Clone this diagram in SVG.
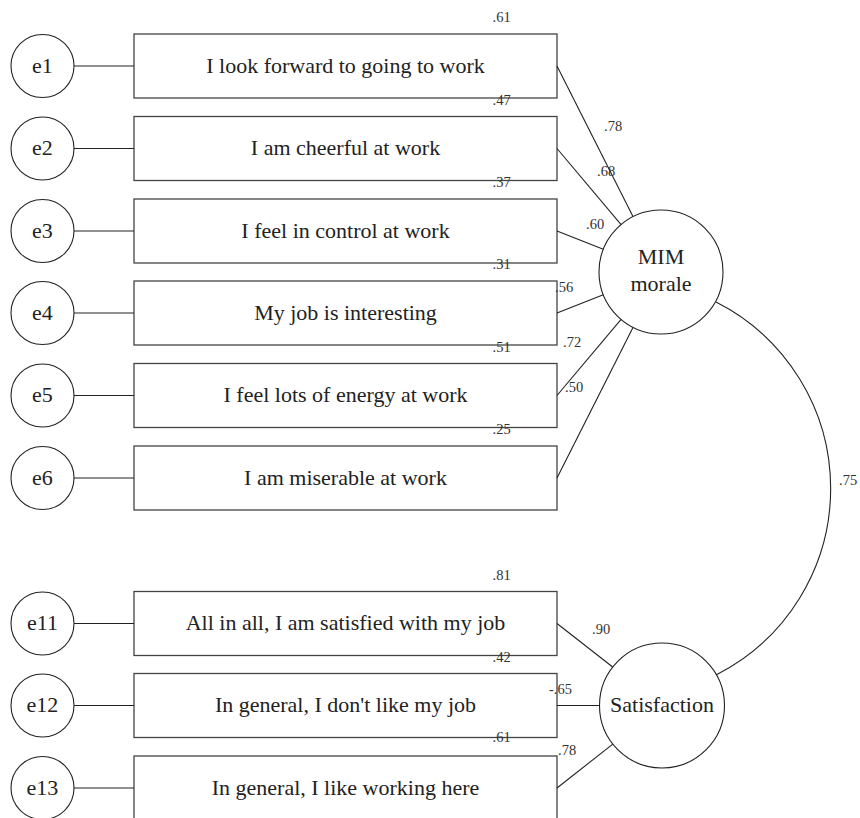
<svg xmlns="http://www.w3.org/2000/svg" width="860" height="818" viewBox="0 0 860 818">
<style>
.box{fill:#fff;stroke:#444;stroke-width:1.3}
.cir{fill:#fff;stroke:#222;stroke-width:1.1}
.ln{stroke:#222;stroke-width:1.1;fill:none}
.t{font-family:"Liberation Serif","Times New Roman",serif;font-size:22px;fill:#222;text-anchor:middle}
.n{font-family:"Liberation Serif","Times New Roman",serif;font-size:14.5px;fill:#333}
</style>
<rect width="860" height="818" fill="#fff"/>
<g id="e1"><circle class="cir" cx="42.5" cy="66" r="31.5"/><text class="t" x="42.5" y="72.5">e1</text></g>
<g id="e2"><circle class="cir" cx="42.5" cy="148.5" r="31.5"/><text class="t" x="42.5" y="155">e2</text></g>
<g id="e3"><circle class="cir" cx="42.5" cy="231" r="31.5"/><text class="t" x="42.5" y="237.5">e3</text></g>
<g id="e4"><circle class="cir" cx="42.5" cy="313" r="31.5"/><text class="t" x="42.5" y="319.5">e4</text></g>
<g id="e5"><circle class="cir" cx="42.5" cy="395.5" r="31.5"/><text class="t" x="42.5" y="402">e5</text></g>
<g id="e6"><circle class="cir" cx="42.5" cy="478" r="31.5"/><text class="t" x="42.5" y="484.5">e6</text></g>
<g id="e11"><circle class="cir" cx="42.5" cy="623.5" r="31.5"/><text class="t" x="42.5" y="630">e11</text></g>
<g id="e12"><circle class="cir" cx="42.5" cy="705.5" r="31.5"/><text class="t" x="42.5" y="712">e12</text></g>
<g id="e13"><circle class="cir" cx="42.5" cy="788" r="31.5"/><text class="t" x="42.5" y="794.5">e13</text></g>
<g id="item1"><rect class="box" x="134" y="34" width="423" height="64"/><text class="t" x="345.5" y="72.5">I look forward to going to work</text><text class="n" x="492.5" y="22">.61</text></g>
<g id="item2"><rect class="box" x="134" y="116.5" width="423" height="64"/><text class="t" x="345.5" y="155">I am cheerful at work</text><text class="n" x="492.5" y="104.5">.47</text></g>
<g id="item3"><rect class="box" x="134" y="199" width="423" height="64"/><text class="t" x="345.5" y="237.5">I feel in control at work</text><text class="n" x="492.5" y="187">.37</text></g>
<g id="item4"><rect class="box" x="134" y="281" width="423" height="64"/><text class="t" x="345.5" y="319.5">My job is interesting</text><text class="n" x="492.5" y="269">.31</text></g>
<g id="item5"><rect class="box" x="134" y="363.5" width="423" height="64"/><text class="t" x="345.5" y="402">I feel lots of energy at work</text><text class="n" x="492.5" y="351.5">.51</text></g>
<g id="item6"><rect class="box" x="134" y="446" width="423" height="64"/><text class="t" x="345.5" y="484.5">I am miserable at work</text><text class="n" x="492.5" y="434">.25</text></g>
<g id="item11"><rect class="box" x="134" y="591.5" width="423" height="64"/><text class="t" x="345.5" y="630">All in all, I am satisfied with my job</text><text class="n" x="492.5" y="579.5">.81</text></g>
<g id="item12"><rect class="box" x="134" y="673.5" width="423" height="64"/><text class="t" x="345.5" y="712">In general, I don't like my job</text><text class="n" x="492.5" y="661.5">.42</text></g>
<g id="item13"><rect class="box" x="134" y="756" width="423" height="64"/><text class="t" x="345.5" y="794.5">In general, I like working here</text><text class="n" x="492.5" y="742">.61</text></g>
<g id="mim"><circle class="cir" cx="661" cy="272" r="62"/><text class="t" x="661" y="263.5">MIM</text><text class="t" x="661" y="290.5">morale</text></g>
<g id="satisfaction"><circle class="cir" cx="662" cy="705.5" r="62.5"/><text class="t" x="662" y="712">Satisfaction</text></g>
<g id="connectors">
<line class="ln" x1="74" y1="66" x2="134" y2="66"/>
<line class="ln" x1="74" y1="148.5" x2="134" y2="148.5"/>
<line class="ln" x1="74" y1="231" x2="134" y2="231"/>
<line class="ln" x1="74" y1="313" x2="134" y2="313"/>
<line class="ln" x1="74" y1="395.5" x2="134" y2="395.5"/>
<line class="ln" x1="74" y1="478" x2="134" y2="478"/>
<line class="ln" x1="74" y1="623.5" x2="134" y2="623.5"/>
<line class="ln" x1="74" y1="705.5" x2="134" y2="705.5"/>
<line class="ln" x1="74" y1="788" x2="134" y2="788"/>
<line class="ln" x1="557" y1="66" x2="633.1" y2="216.7"/>
<line class="ln" x1="557" y1="148.5" x2="621.1" y2="224.6"/>
<line class="ln" x1="557" y1="231" x2="603.3" y2="249.3"/>
<line class="ln" x1="557" y1="313" x2="603.3" y2="294.7"/>
<line class="ln" x1="557" y1="395.5" x2="621.1" y2="319.4"/>
<line class="ln" x1="557" y1="478" x2="633.1" y2="327.3"/>
<line class="ln" x1="557" y1="623.5" x2="612.7" y2="667"/>
<line class="ln" x1="557" y1="705.5" x2="599.5" y2="705.5"/>
<line class="ln" x1="557" y1="788" x2="612.8" y2="744.1"/>
<path class="ln" d="M716,302 A209,209 0 0,1 716,675"/>
<text class="n" x="604" y="131">.78</text>
<text class="n" x="597" y="175.5">.68</text>
<text class="n" x="586" y="228.5">.60</text>
<text class="n" x="555" y="291.5">.56</text>
<text class="n" x="563" y="346.5">.72</text>
<text class="n" x="565" y="392">.50</text>
<text class="n" x="592" y="634">.90</text>
<text class="n" x="549" y="693.5">-.65</text>
<text class="n" x="558" y="755">.78</text>
<text class="n" x="839" y="485">.75</text>
</g>
</svg>
